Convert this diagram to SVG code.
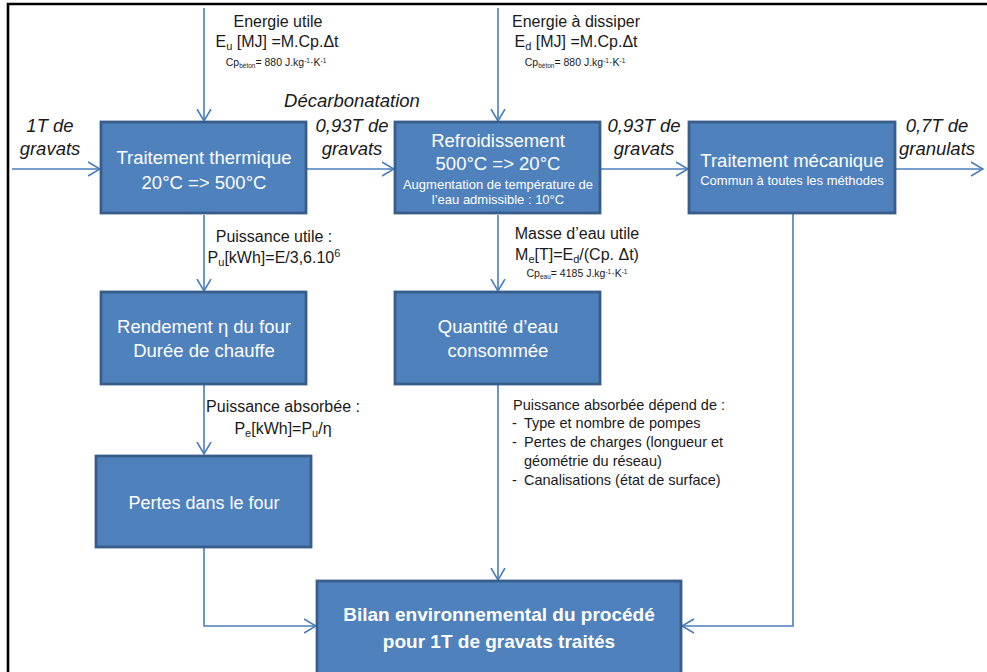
<svg xmlns="http://www.w3.org/2000/svg" width="987" height="672" viewBox="0 0 987 672">
  <style>
    .box { fill: #4F81BD; stroke: #385D8A; stroke-width: 2.8; }
    .bt { font-family: "Liberation Sans", Arial, sans-serif; fill: #FFFFFF; text-anchor: middle; }
    .lbl { font-family: "Liberation Sans", Arial, sans-serif; fill: #1A1A1A; }
    .it { font-family: "Liberation Sans", Arial, sans-serif; font-style: italic; fill: #1A1A1A; font-size: 18.5px; text-anchor: middle; }
    .c { text-anchor: middle; }
    .con { fill: none; stroke: #4A7EBB; stroke-width: 1.6; marker-end: url(#chev); }
  </style>
  <defs>
    <marker id="chev" viewBox="0 0 13 16" refX="12.5" refY="8" markerWidth="13" markerHeight="16" markerUnits="userSpaceOnUse" orient="auto">
      <path d="M0.5,1 L12.5,8 L0.5,15" fill="none" stroke="#4A7EBB" stroke-width="1.6"/>
    </marker>
  </defs>

  <rect x="0" y="0" width="987" height="672" fill="#FFFFFF"/>
  <!-- outer frame (left and top edges) -->
  <path d="M8,676 L8,4 L990,4" fill="none" stroke="#000000" stroke-width="2.6"/>

  <!-- connectors -->
  <g id="connectors">
    <path class="con" d="M204,8 L204,121"/>
    <path class="con" d="M498,8 L498,121"/>
    <path class="con" d="M12,169 L100,169"/>
    <path class="con" d="M307,169 L394,169"/>
    <path class="con" d="M601,169 L688,169"/>
    <path class="con" d="M896,169 L983,169"/>
    <path class="con" d="M204,215 L204,291"/>
    <path class="con" d="M498,215 L498,291"/>
    <path class="con" d="M204,385 L204,454"/>
    <path class="con" d="M498,385 L498,580"/>
    <path class="con" d="M204,547 L204,626 L316,626"/>
    <path class="con" d="M793,214 L793,626 L682,626"/>
  </g>

  <!-- flow labels -->
  <g id="labels">
    <text class="lbl c" x="278" y="27" font-size="16">Energie utile</text>
    <text class="lbl c" x="277" y="47" font-size="16">E<tspan font-size="11" dy="3">u</tspan><tspan dy="-3"> [MJ] =M.Cp.Δt</tspan></text>
    <text class="lbl c" x="276" y="66" font-size="10.5">Cp<tspan font-size="6.5" dy="2">béton</tspan><tspan dy="-2">= 880 J.kg</tspan><tspan font-size="6.5" dy="-3">-1</tspan><tspan dy="3">·K</tspan><tspan font-size="6.5" dy="-3">-1</tspan></text>

    <text class="lbl c" x="576" y="27" font-size="16">Energie à dissiper</text>
    <text class="lbl c" x="576" y="47" font-size="16">E<tspan font-size="11" dy="3">d</tspan><tspan dy="-3"> [MJ] =M.Cp.Δt</tspan></text>
    <text class="lbl c" x="575" y="66" font-size="10.5">Cp<tspan font-size="6.5" dy="2">béton</tspan><tspan dy="-2">= 880 J.kg</tspan><tspan font-size="6.5" dy="-3">-1</tspan><tspan dy="3">·K</tspan><tspan font-size="6.5" dy="-3">-1</tspan></text>

    <text class="it" x="352" y="107">Décarbonatation</text>
    <text class="it" x="50" y="132">1T de</text>
    <text class="it" x="50" y="155">gravats</text>
    <text class="it" x="352" y="132">0,93T de</text>
    <text class="it" x="352" y="155">gravats</text>
    <text class="it" x="644" y="132">0,93T de</text>
    <text class="it" x="644" y="155">gravats</text>
    <text class="it" x="937" y="132">0,7T de</text>
    <text class="it" x="937" y="155">granulats</text>

    <text class="lbl c" x="274" y="242" font-size="16">Puissance utile :</text>
    <text class="lbl c" x="274" y="263" font-size="16">P<tspan font-size="11" dy="3">u</tspan><tspan dy="-3">[kWh]=E/3,6.10</tspan><tspan font-size="11" dy="-6">6</tspan></text>

    <text class="lbl c" x="283" y="412" font-size="16">Puissance absorbée :</text>
    <text class="lbl c" x="283" y="434" font-size="16">P<tspan font-size="11" dy="3">e</tspan><tspan dy="-3">[kWh]=P</tspan><tspan font-size="11" dy="3">u</tspan><tspan dy="-3">/η</tspan></text>

    <text class="lbl c" x="577" y="239" font-size="16">Masse d’eau utile</text>
    <text class="lbl c" x="577" y="260" font-size="16">M<tspan font-size="11" dy="3">e</tspan><tspan dy="-3">[T]=E</tspan><tspan font-size="11" dy="3">d</tspan><tspan dy="-3">/(Cp. Δt)</tspan></text>
    <text class="lbl c" x="577" y="277" font-size="10.5">Cp<tspan font-size="6.5" dy="2">eau</tspan><tspan dy="-2">= 4185 J.kg</tspan><tspan font-size="6.5" dy="-3">-1</tspan><tspan dy="3">·K</tspan><tspan font-size="6.5" dy="-3">-1</tspan></text>

    <text class="lbl" x="513" y="410" font-size="14.5">Puissance absorbée dépend de :</text>
    <text class="lbl" x="512" y="428" font-size="14.5">-</text>
    <text class="lbl" x="524" y="428" font-size="14.5">Type et nombre de pompes</text>
    <text class="lbl" x="512" y="447" font-size="14.5">-</text>
    <text class="lbl" x="524" y="447" font-size="14.5">Pertes de charges (longueur et</text>
    <text class="lbl" x="524" y="466" font-size="14.5">géométrie du réseau)</text>
    <text class="lbl" x="512" y="485" font-size="14.5">-</text>
    <text class="lbl" x="524" y="485" font-size="14.5">Canalisations (état de surface)</text>
  </g>

  <!-- process nodes -->
  <g id="traitement-thermique">
    <rect class="box" x="101" y="122" width="205" height="91"/>
    <text class="bt" x="204" y="164" font-size="18.5">Traitement thermique</text>
    <text class="bt" x="204" y="189" font-size="18.5">20°C =&gt; 500°C</text>
  </g>
  <g id="refroidissement">
    <rect class="box" x="395" y="122" width="205" height="91"/>
    <text class="bt" x="498" y="147" font-size="18.5">Refroidissement</text>
    <text class="bt" x="498" y="170" font-size="18.5">500°C =&gt; 20°C</text>
    <text class="bt" x="498" y="189" font-size="13">Augmentation de température de</text>
    <text class="bt" x="498" y="204" font-size="13">l’eau admissible : 10°C</text>
  </g>
  <g id="traitement-mecanique">
    <rect class="box" x="689" y="122" width="206" height="91"/>
    <text class="bt" x="792" y="167" font-size="18.5">Traitement mécanique</text>
    <text class="bt" x="792" y="185" font-size="13">Commun à toutes les méthodes</text>
  </g>
  <g id="rendement">
    <rect class="box" x="101" y="292" width="205" height="92"/>
    <text class="bt" x="204" y="333" font-size="18.5">Rendement η du four</text>
    <text class="bt" x="204" y="357" font-size="18.5">Durée de chauffe</text>
  </g>
  <g id="quantite-eau">
    <rect class="box" x="395" y="292" width="205" height="92"/>
    <text class="bt" x="498" y="333" font-size="18.5">Quantité d’eau</text>
    <text class="bt" x="498" y="357" font-size="18.5">consommée</text>
  </g>
  <g id="pertes-four">
    <rect class="box" x="96" y="456" width="215" height="91"/>
    <text class="bt" x="204" y="509" font-size="18">Pertes dans le four</text>
  </g>
  <g id="bilan">
    <rect class="box" x="317" y="581" width="364" height="96"/>
    <text class="bt" x="499" y="621" font-size="19" font-weight="bold">Bilan environnemental du procédé</text>
    <text class="bt" x="499" y="648" font-size="19" font-weight="bold">pour 1T de gravats traités</text>
  </g>
</svg>
